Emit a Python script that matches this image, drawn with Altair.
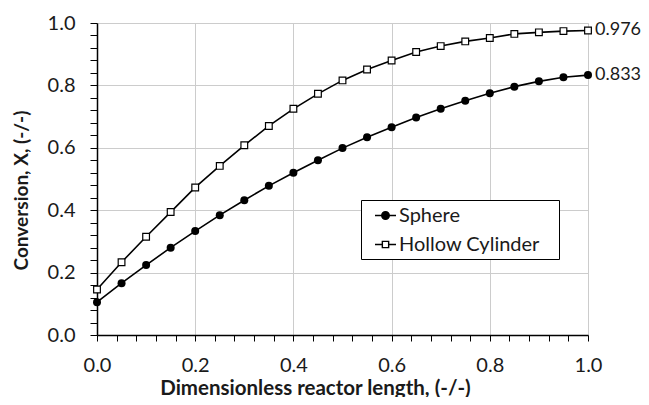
import altair as alt
import pandas as pd

x_vals = [0.00, 0.05, 0.10, 0.15, 0.20, 0.25, 0.30, 0.35, 0.40, 0.45, 0.50,
          0.55, 0.60, 0.65, 0.70, 0.75, 0.80, 0.85, 0.90, 0.95, 1.00]
sphere = [0.105, 0.166, 0.224, 0.280, 0.333, 0.384, 0.432, 0.478, 0.520, 0.560, 0.599,
          0.634, 0.666, 0.697, 0.725, 0.751, 0.775, 0.796, 0.813, 0.826, 0.833]
hollow = [0.146, 0.233, 0.315, 0.394, 0.473, 0.542, 0.608, 0.670, 0.725, 0.773, 0.816,
          0.851, 0.880, 0.907, 0.926, 0.941, 0.952, 0.965, 0.970, 0.974, 0.976]
series_names = ["Sphere", "Hollow Cylinder"]
tick_values = [round(i * 0.04, 2) for i in range(26)]

rows = []
for name, vals in zip(series_names, [sphere, hollow]):
    for xv, yv in zip(x_vals, vals):
        rows.append({"x": xv, "value": yv, "series": name})
df = pd.DataFrame(rows)

FONT = "Lato"
TXT = "#1a1a1a"
major_test = "abs(datum.value*5 - round(datum.value*5)) < 0.001"
label_expr = f"{major_test} ? format(datum.value, '.1f') : ''"

x_axis = alt.Axis(
    values=tick_values, labelExpr=label_expr, title="Dimensionless reactor length, (-/-)",
    grid=True, gridColor="#cccccc", gridWidth=1,
    gridOpacity=alt.ConditionalAxisNumber(condition={"test": major_test, "value": 1}, value=0),
    tickColor="black", tickSize=6, tickWidth=1, domainColor="black", domainWidth=1.5,
    labelFont=FONT, labelFontSize=20, labelColor=TXT, labelBaseline="alphabetic",
    labelPadding=30, labelOverlap=False, labelFlush=False,
    titleFont=FONT, titleFontSize=20.5, titleFontWeight="bold", titleColor=TXT,
    titleBaseline="alphabetic", titleX=218, titleY=59,
)
y_axis = alt.Axis(
    values=tick_values, labelExpr=label_expr, title="Conversion, X, (-/-)",
    grid=True, gridColor="#cccccc", gridWidth=1,
    gridOpacity=alt.ConditionalAxisNumber(condition={"test": major_test, "value": 1}, value=0),
    tickColor="black", tickSize=7, tickWidth=1, domainColor="black", domainWidth=1.5,
    labelFont=FONT, labelFontSize=20, labelColor=TXT, labelPadding=15, labelOverlap=False,
    labelFlush=False,
    titleFont=FONT, titleFontSize=19, titleFontWeight="bold", titleColor=TXT,
    titleBaseline="alphabetic", titleX=-70, titleY=167,
)

X = alt.X("x:Q", scale=alt.Scale(domain=[0, 1], nice=False, zero=False), axis=x_axis)
Y = alt.Y("value:Q", scale=alt.Scale(domain=[0, 1], nice=False), axis=y_axis)

base = alt.Chart(df)

lines = base.mark_line(color="black", strokeWidth=1.6).encode(x=X, y=Y, detail="series:N")

pts_sphere = base.transform_filter(alt.datum.series == "Sphere").mark_point(
    shape="circle", filled=True, color="black", size=64, opacity=1
).encode(x=X, y=Y)

pts_hollow = base.transform_filter(alt.datum.series == "Hollow Cylinder").mark_point(
    shape="square", filled=True, fill="white", stroke="black", strokeWidth=1.2, size=45, opacity=1
).encode(x=X, y=Y)

end_labels = base.transform_filter(alt.datum.x == 1).mark_text(
    align="left", baseline="middle", dx=7, font=FONT, fontSize=18, color=TXT
).encode(x=X, y=Y, text=alt.Text("value:Q", format=".3f"))

circle_path = "M-1,0L-0.36,0M0.36,0L1,0M-0.36,0A0.36,0.36 0 1 0 0.36,0A0.36,0.36 0 1 0 -0.36,0Z"
square_path = "M-1,0L-0.3,0M0.3,0L1,0M-0.3,-0.3L0.3,-0.3L0.3,0.3L-0.3,0.3Z"

legend_def = alt.Legend(
    title=None, orient="none", legendX=264, legendY=177,
    labelFont=FONT, labelFontSize=20, labelColor=TXT, labelOffset=2,
    labelExpr="datum.label + '\u2800'",
    symbolSize=441, symbolStrokeColor="black", symbolStrokeWidth=1.4, symbolOpacity=1,
    symbolOffset=9,
    strokeColor="black", fillColor="white", padding=4, rowPadding=7,
    labelLimit=300,
)
legend_layer = base.transform_filter("false").mark_point(
    filled=True, strokeWidth=1.4, opacity=1
).encode(
    shape=alt.Shape("series:N", scale=alt.Scale(domain=series_names, range=[circle_path, square_path]),
                    legend=legend_def),
    fill=alt.Fill("series:N", scale=alt.Scale(domain=series_names, range=["black", "white"]),
                  legend=legend_def),
    stroke=alt.Stroke("series:N", scale=alt.Scale(domain=series_names, range=["black", "black"]),
                      legend=legend_def),
)

chart = alt.layer(lines, pts_sphere, pts_hollow, end_labels, legend_layer).properties(
    width=491, height=312,
    padding={"left": 89, "top": 15, "right": 53, "bottom": 62},
    autosize=alt.AutoSizeParams(type="none"),
).configure_view(stroke="black", strokeWidth=1.5).configure(background="white")

chart.save("out.html", embed_options={"renderer": "svg", "actions": False})
